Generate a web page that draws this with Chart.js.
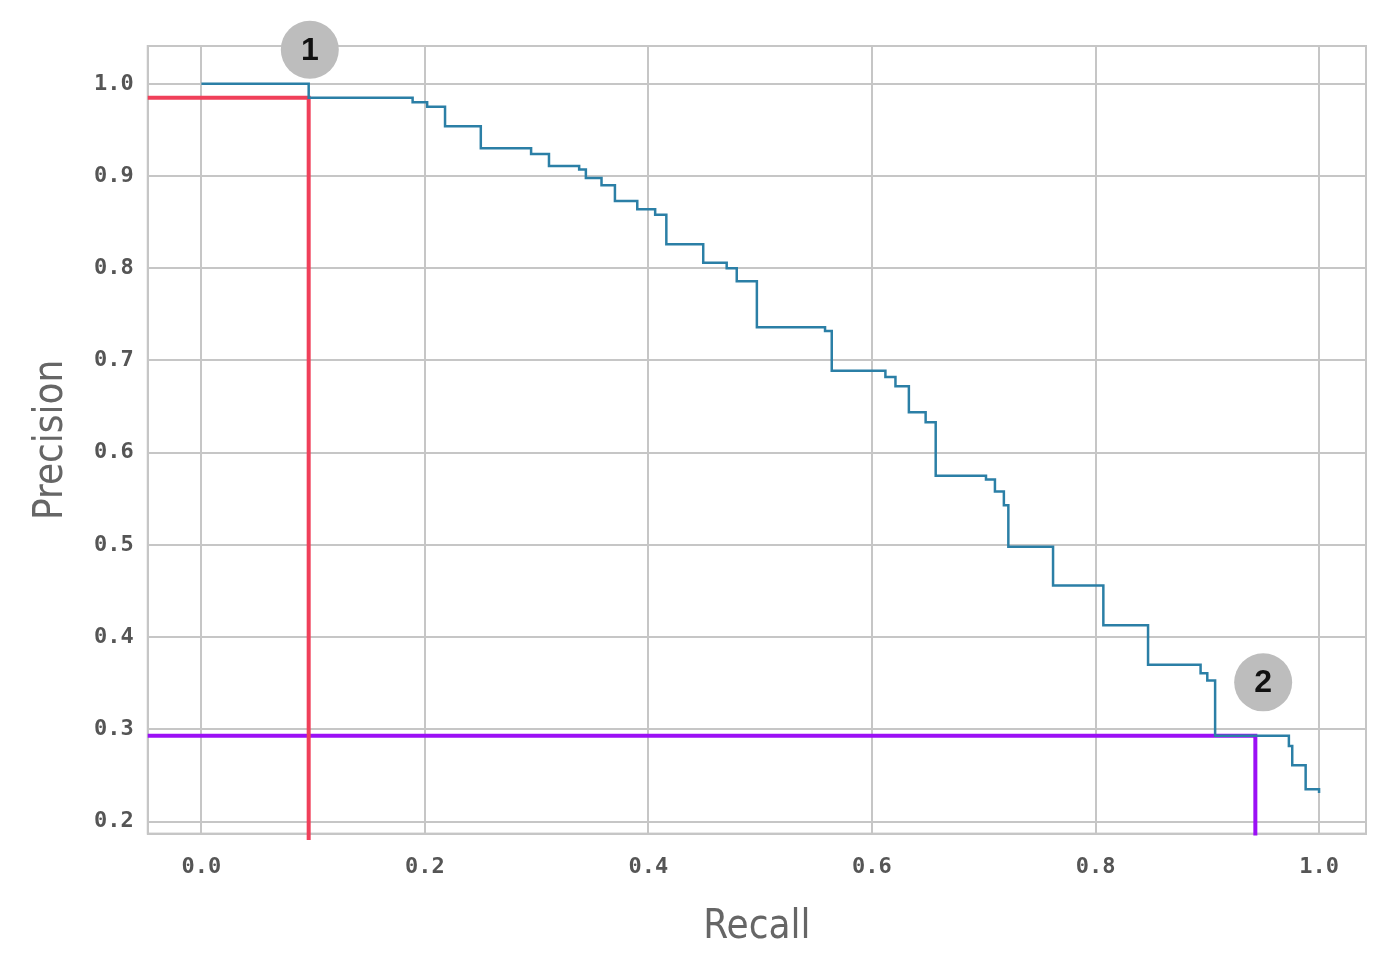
<!DOCTYPE html>
<html lang="en">
<head>
    <meta charset="UTF-8">
    <title>Precision-Recall</title>
    <script src="https://cdn.jsdelivr.net/npm/chart.js"></script>
    <style>
        html, body { margin: 0; background: #fff; }
        .chart-box { width: 1390px; height: 972px; }
    </style>
</head>
<body>
    <div class="chart-box"><canvas id="prChart"></canvas></div>
    <script>
        // PR curve, step points (recall where precision drops, new precision)
        const recall = [0, 0.096, 0.189, 0.202, 0.218, 0.25, 0.295, 0.311, 0.338, 0.344, 0.358, 0.37, 0.39, 0.406,
            0.416, 0.449, 0.47, 0.479, 0.497, 0.558, 0.564, 0.612, 0.621, 0.633, 0.648, 0.657, 0.702, 0.71,
            0.718, 0.722, 0.762, 0.807, 0.847, 0.894, 0.9, 0.907, 0.973, 0.976, 0.988, 1.0];
        const precision = [1.0, 0.985, 0.98, 0.975, 0.954, 0.93, 0.924, 0.911, 0.907, 0.898, 0.89, 0.873, 0.864, 0.858,
            0.826, 0.806, 0.8, 0.786, 0.736, 0.732, 0.689, 0.682, 0.672, 0.644, 0.633, 0.575, 0.571, 0.558,
            0.543, 0.498, 0.456, 0.413, 0.37, 0.361, 0.353, 0.293, 0.282, 0.261, 0.235, 0.231];

        // marker lines and numbered badges
        const redLine = [[-0.048, 0.985], [0.096, 0.985], [0.096, 0.18]];
        const purpleLine = [[-0.048, 0.293], [0.943, 0.293], [0.943, 0.185]];
        const badges = [['1', 0.097, 1.037], ['2', 0.95, 0.351]];

        const xTicks = [0, 0.2, 0.4, 0.6, 0.8, 1.0];
        const yTicks = [0.2, 0.3, 0.4, 0.5, 0.6, 0.7, 0.8, 0.9, 1.0];

        const toPts = arr => arr.map(p => ({ x: p[0], y: p[1] }));

        // frame around the plot plus the grey numbered circles
        const overlayPlugin = {
            id: 'overlay',
            beforeDatasetsDraw(chart) {
                const a = chart.chartArea, ctx = chart.ctx;
                ctx.save();
                ctx.strokeStyle = '#c6c6c6';
                ctx.lineWidth = 2;
                ctx.strokeRect(a.left, a.top, a.right - a.left, a.bottom - a.top);
                ctx.restore();
            },
            afterDraw(chart) {
                const ctx = chart.ctx;
                const xs = chart.scales.x, ys = chart.scales.y;
                ctx.save();
                badges.forEach(b => {
                    const px = xs.getPixelForValue(b[1]);
                    const py = ys.getPixelForValue(b[2]);
                    ctx.beginPath();
                    ctx.arc(px, py, 29, 0, Math.PI * 2);
                    ctx.fillStyle = '#bdbdbd';
                    ctx.fill();
                    ctx.fillStyle = '#111';
                    ctx.font = 'bold 32px "Liberation Sans", Arial';
                    ctx.textAlign = 'center';
                    ctx.textBaseline = 'middle';
                    ctx.fillText(b[0], px, py + 1);
                });
                ctx.restore();
            }
        };

        new Chart(document.getElementById('prChart').getContext('2d'), {
            type: 'scatter',
            data: {
                datasets: [
                    {
                        data: recall.map((r, i) => ({ x: r, y: precision[i] })),
                        showLine: true, stepped: true,
                        borderColor: '#2b7fa6', borderWidth: 2.5, pointRadius: 0
                    },
                    {
                        data: toPts(redLine), showLine: true, clip: false,
                        borderColor: '#f0405a', borderWidth: 4, pointRadius: 0
                    },
                    {
                        data: toPts(purpleLine), showLine: true, clip: false,
                        borderColor: '#9b10f5', borderWidth: 4, pointRadius: 0
                    }
                ]
            },
            options: {
                responsive: true, maintainAspectRatio: false, animation: false,
                layout: { padding: { top: 46, right: 24, bottom: 16, left: 24 } },
                plugins: { legend: { display: false }, tooltip: { enabled: false } },
                scales: {
                    x: {
                        type: 'linear', min: -0.048, max: 1.042,
                        afterBuildTicks: s => { s.ticks = xTicks.map(v => ({ value: v })); },
                        ticks: { color: '#555', font: { family: 'DejaVu Sans Mono', size: 22, weight: 'bold' },
                            callback: v => v.toFixed(1), padding: 20 },
                        grid: { color: '#c6c6c6', lineWidth: 2, drawTicks: false },
                        border: { color: '#c6c6c6', width: 2 },
                        title: { display: true, text: 'Recall', color: '#666', font: { family: 'DejaVu Sans Condensed', size: 40 } }
                    },
                    y: {
                        type: 'linear', min: 0.187, max: 1.041,
                        afterBuildTicks: s => { s.ticks = yTicks.map(v => ({ value: v })); },
                        ticks: { color: '#555', font: { family: 'DejaVu Sans Mono', size: 22, weight: 'bold' },
                            callback: v => v.toFixed(1), padding: 14 },
                        grid: { color: '#c6c6c6', lineWidth: 2, drawTicks: false },
                        border: { color: '#c6c6c6', width: 2 },
                        title: { display: true, text: 'Precision', color: '#666', font: { family: 'DejaVu Sans Condensed', size: 40 } }
                    }
                }
            },
            plugins: [overlayPlugin]
        });
    </script>
</body>
</html>
